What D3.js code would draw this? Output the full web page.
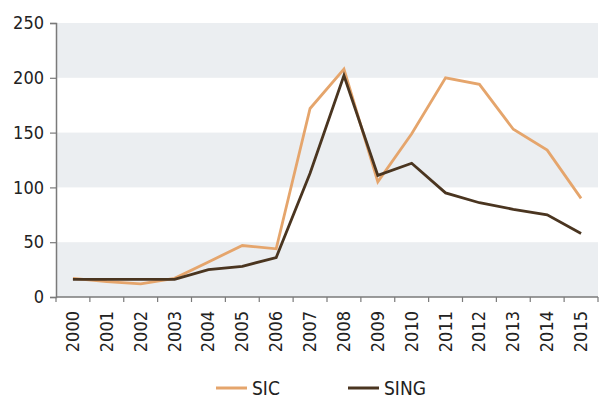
<!DOCTYPE html>
<html>
<head>
<meta charset="utf-8">
<script src="https://cdn.jsdelivr.net/npm/d3@7/dist/d3.min.js"></script>
<style>
  html, body { margin: 0; padding: 0; background: #fff; }
  svg { display: block; }
  text { font-family: "DejaVu Sans Condensed", "DejaVu Sans", sans-serif; font-stretch: condensed; fill: #222; }
</style>
</head>
<body>
<svg id="chart" width="599" height="400"></svg>
<script>
// Yearly values for the two grids
const years = ["2000","2001","2002","2003","2004","2005","2006","2007","2008","2009","2010","2011","2012","2013","2014","2015"];
const sic  = [17, 14, 12, 17, 32, 47, 44, 172, 208, 105, 149, 200, 194, 153, 134, 90];
const sing = [16, 16, 16, 16, 25, 28, 36, 113, 202, 111, 122, 95, 86, 80, 75, 58];
const yTicks = [0, 50, 100, 150, 200, 250];
const seriesNames = ["SIC", "SING"];
const seriesColors = ["#e5a56c", "#4a3520"];

const svg = d3.select("#chart");
const margin = { left: 56, right: 1, top: 23, bottom: 103 };
const W = 599, H = 400;
const x0 = margin.left, x1 = W - margin.right;
const y0 = H - margin.bottom, y1 = margin.top;
const fontFamily = "DejaVu Sans Condensed, DejaVu Sans, sans-serif";

const x = d3.scaleBand().domain(years).range([x0, x1]).padding(0);
const y = d3.scaleLinear().domain([0, 250]).range([y0, y1]);

// Alternating background stripes
const stripes = [[0, 50], [100, 150], [200, 250]];
svg.append("g").selectAll("rect").data(stripes).join("rect")
  .attr("x", x0).attr("width", x1 - x0)
  .attr("y", d => y(d[1])).attr("height", d => y(d[0]) - y(d[1]))
  .attr("fill", "#ebeef1");

// Lines
const line = d3.line().x((d, i) => x(years[i]) + x.bandwidth() / 2).y(d => y(d));
[sic, sing].forEach((vals, k) => {
  svg.append("path").datum(vals)
    .attr("fill", "none")
    .attr("stroke", seriesColors[k])
    .attr("stroke-width", 2.8)
    .attr("stroke-linejoin", "miter")
    .attr("d", line);
});

// Y axis
const yAxis = svg.append("g").attr("transform", `translate(${x0},0)`)
  .call(d3.axisLeft(y).tickValues(yTicks).tickSize(6).tickPadding(6));
yAxis.select(".domain").attr("stroke", "#7a7a7a").attr("stroke-width", 1.5);
yAxis.selectAll(".tick line").attr("stroke", "#7a7a7a").attr("stroke-width", 1.2);
yAxis.selectAll("text").attr("font-size", 18).attr("fill", "#222")
  .attr("font-family", fontFamily);

// X axis: ticks at band edges, labels rotated
const xg = svg.append("g").attr("transform", `translate(0,${y0})`);
xg.append("line").attr("x1", x0).attr("x2", x1).attr("y1", 0).attr("y2", 0)
  .attr("stroke", "#7a7a7a").attr("stroke-width", 1.5);
const edges = years.map(d => x(d)).concat([x1]);
xg.selectAll("line.edge").data(edges).join("line").attr("class", "edge")
  .attr("x1", d => d).attr("x2", d => d).attr("y1", 0).attr("y2", 5)
  .attr("stroke", "#7a7a7a").attr("stroke-width", 1.2);
xg.selectAll("text.yr").data(years).join("text").attr("class", "yr")
  .attr("transform", d => `translate(${x(d) + x.bandwidth() / 2 + 6},14) rotate(-90)`)
  .attr("text-anchor", "end")
  .attr("font-size", 18)
  .text(d => d);

// Legend
const legendX = [216, 348];
seriesNames.forEach((name, k) => {
  const g = svg.append("g").attr("transform", `translate(${legendX[k]},388)`);
  g.append("line").attr("x1", 0).attr("x2", 31).attr("y1", 0).attr("y2", 0)
    .attr("stroke", seriesColors[k]).attr("stroke-width", 3);
  g.append("text").attr("x", 36).attr("y", 7).attr("font-size", 19).text(name);
});
</script>
</body>
</html>
